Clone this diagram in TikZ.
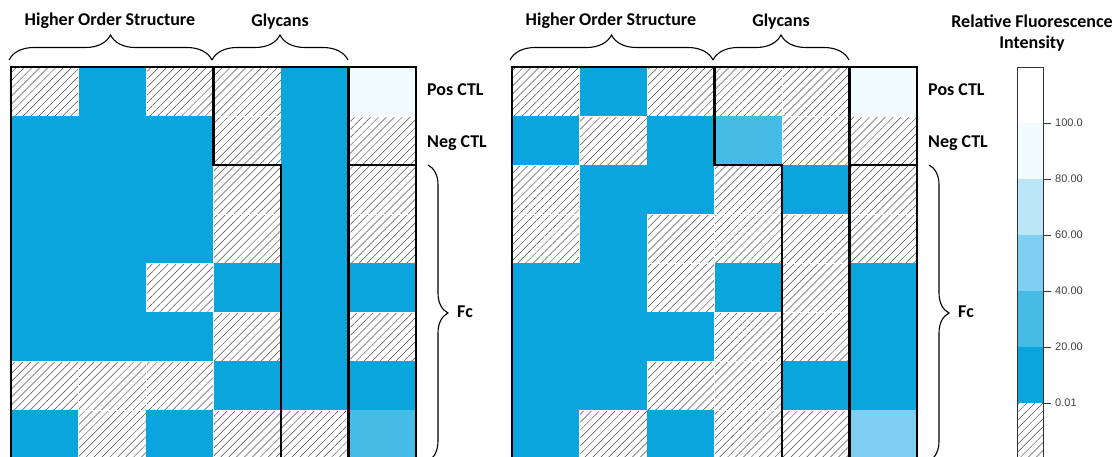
\documentclass[tikz,border=0pt]{standalone}
\usepackage{fontspec}
\setmainfont{Carlito}
\newfontfamily\scalefont{Liberation Sans}
\usetikzlibrary{patterns.meta,decorations.pathreplacing}

% intensity classes, strongest first
\definecolor{rfi0}{HTML}{0BA5DD}
\definecolor{rfi1}{HTML}{44BCE6}
\definecolor{rfi2}{HTML}{80CEF1}
\definecolor{rfi3}{HTML}{BCE6F6}
\definecolor{rfi4}{HTML}{F2FBFE}

\tikzset{
	hmb/.style={fill=rfi0},
	hm1/.style={fill=rfi1},
	hm2/.style={fill=rfi2},
	hmw/.style={fill=rfi4},
	hatch/.style={pattern={Lines[angle=45,distance=5.6pt,line width=0.5pt]},pattern color=black!70},
	hmh/.style={hatch,draw=white,line width=0.8pt},
	sepline/.style={line width=2.5pt,line cap=rect},
	brc/.style={decorate,decoration={brace,amplitude=#1},line width=1.1pt},
	lbl/.style={font=\fontsize{18}{20}\selectfont\bfseries,inner sep=0pt},
	scl/.style={font=\scalefont\fontsize{11}{12}\selectfont,text=black!75,inner sep=0pt,anchor=west}
}

% one 6 x 8 map: rows of cell classes, top row first
\newcommand{\rfimap}[1]{%
	\foreach \cells [count=\r from 0] in {#1}
		\foreach \k [count=\c from 0] in \cells
			\path[hm\k] (\c*67.5,\r*49) rectangle ++(67.5,49);
	\draw[sepline] (202.5,0) -- (202.5,98) -- (270,98) -- (270,392);
	\draw[sepline] (337.5,0) -- (337.5,392);
	\draw[sepline] (337.5,98) -- (405,98);
	\draw[sepline] (0,0) rectangle (405,392);
}

\begin{document}
\begin{tikzpicture}[x=1pt,y=-1pt]
	\useasboundingbox (0,0) rectangle (1115,456);
	\clip (0,0) rectangle (1115,456);

	% left map
	\begin{scope}[shift={(11,67)}]
		\rfimap{{h,b,h,h,b,w},{b,b,b,h,b,h},{b,b,b,h,b,h},{b,b,b,h,b,h},
			{b,b,h,b,b,b},{b,b,b,h,b,h},{h,h,h,b,b,b},{b,h,b,h,h,1}}
	\end{scope}
	% right map
	\begin{scope}[shift={(512,67)}]
		\rfimap{{h,b,h,h,h,w},{b,h,b,1,h,h},{h,b,b,h,b,h},{h,b,h,h,h,h},
			{b,b,h,b,h,b},{b,b,b,h,h,b},{b,b,h,h,b,b},{b,h,b,h,h,2}}
	\end{scope}

	% column groups and row labels
	\foreach \dx [count=\m] in {0,501} {
		\coordinate (h\m a) at (9+\dx,60);
		\coordinate (h\m b) at (212+\dx,60);
		\coordinate (h\m c) at (348+\dx,60);
		\coordinate (f\m a) at (428+\dx,165);
		\coordinate (f\m b) at (428+\dx,461);
		\draw[brc=25pt] (h\m a) -- (h\m b);
		\draw[brc=25pt] (h\m b) -- (h\m c);
		\draw[brc=20pt] (f\m a) -- (f\m b);
		\node[lbl,anchor=base] (hos\m) at (110+\dx,25) {Higher Order Structure};
		\node[lbl,anchor=base] (gly\m) at (280+\dx,26) {Glycans};
		\node[lbl,anchor=base west] (pos\m) at (427+\dx,95) {Pos CTL};
		\node[lbl,anchor=base west] (neg\m) at (427+\dx,147) {Neg CTL};
		\node[lbl,anchor=base west] (fc\m) at (457+\dx,317) {Fc};
	}

	% colour scale
	\node[lbl,anchor=base] (ttl) at (1032,27) {Relative Fluorescence};
	\node[lbl,anchor=base] (ttl2) at (1032,48) {Intensity};
	\path[hmw] (1017,123) rectangle (1043,179);
	\foreach \col [count=\i from 0] in {rfi3,rfi2,rfi1,rfi0}
		\fill[\col] (1017,179+\i*56) rectangle ++(26,56);
	\path[hatch] (1017,403) rectangle (1043,470);
	\draw[line width=0.9pt,black!80] (1017,67) rectangle (1043,470);
	\foreach \val [count=\i from 0] in {100.0,80.00,60.00,40.00,20.00,0.01} {
		\draw[line width=0.9pt,black!80] (1043,123+\i*56) -- (1051,123+\i*56);
		\node[scl] (v\i) at (1055,123+\i*56) {\val};
	}
\end{tikzpicture}
\end{document}
